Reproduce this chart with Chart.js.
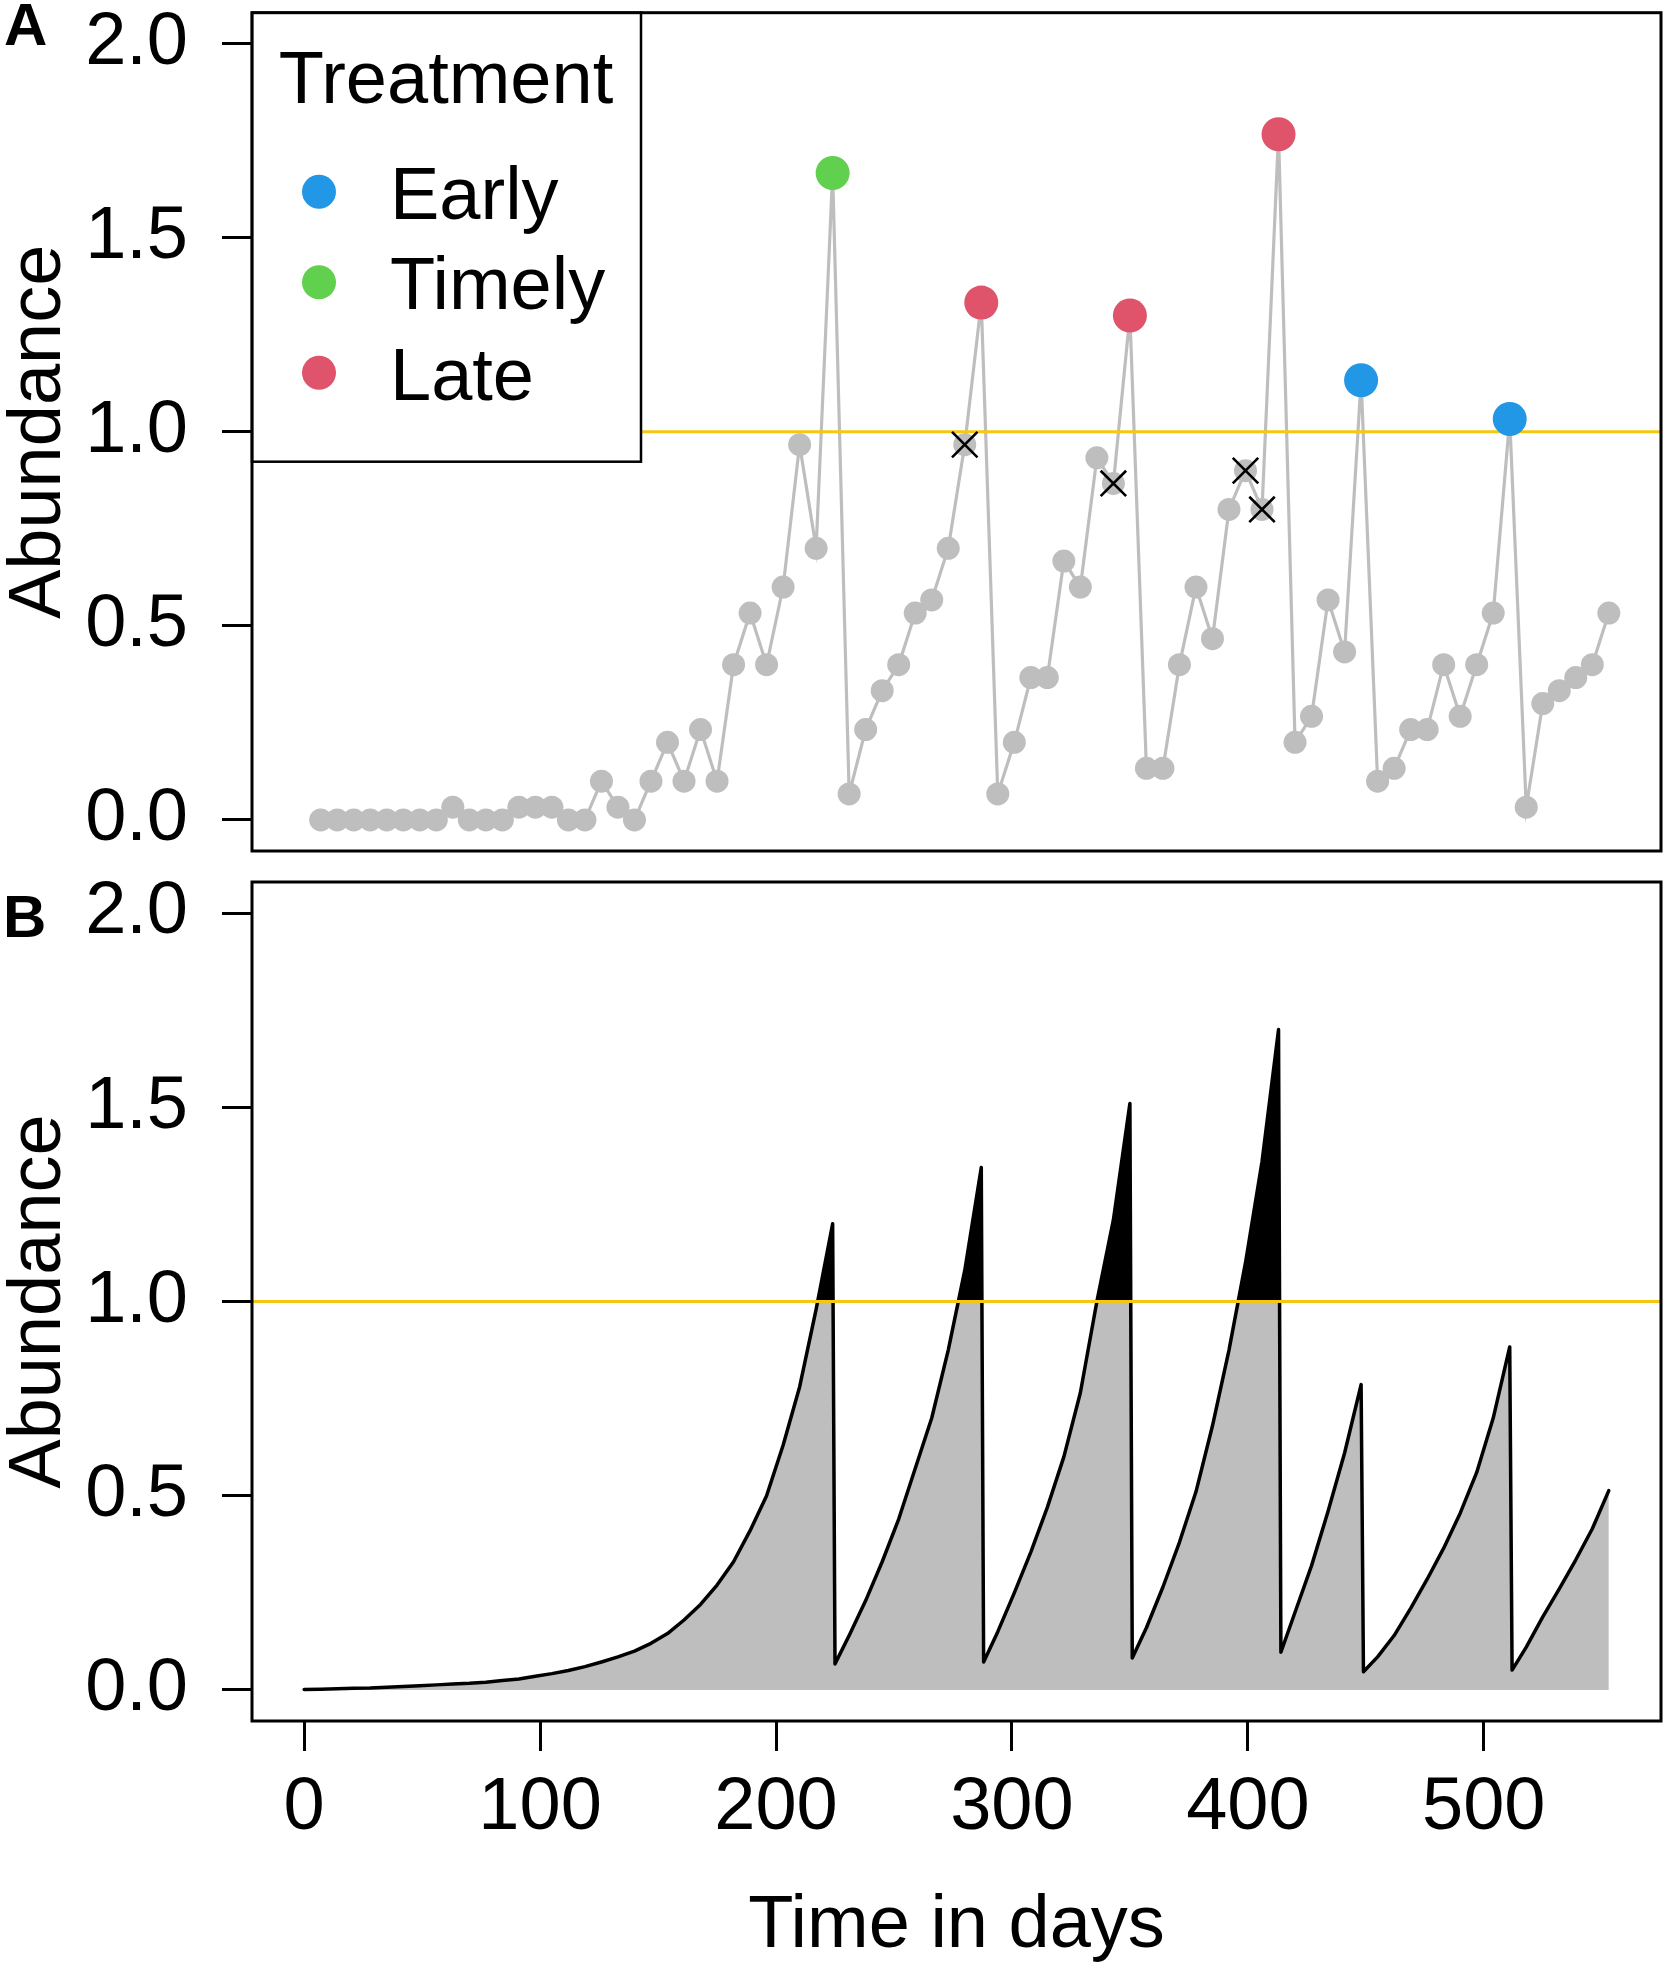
<!DOCTYPE html>
<html>
<head>
<meta charset="utf-8">
<script src="https://cdn.jsdelivr.net/npm/chart.js@4.4.1/dist/chart.umd.min.js"></script>
<style>
  html, body { margin: 0; padding: 0; background: #fff; }
  #wrap { position: relative; width: 1669px; height: 1973px; background: #fff; }
  canvas { position: absolute; left: 0; }
  #cA { top: 0; }
  #cB { top: 866px; }
</style>
</head>
<body>
<div id="wrap">
  <canvas id="cA" width="1669" height="866"></canvas>
  <canvas id="cB" width="1669" height="1107"></canvas>
</div>
<script>
// ---------------- DATA ----------------
// Panel A: weekly observed abundance
const weekDays = [7,14,21,28,35,42,49,56,63,70,77,84,91,98,105,112,119,126,133,140,
  147,154,161,168,175,182,189,196,203,210,217,224,231,238,245,252,259,266,273,280,
  287,294,301,308,315,322,329,336,343,350,357,364,371,378,385,392,399,406,413,420,
  427,434,441,448,455,462,469,476,483,490,497,504,511,518,525,532,539,546,553];
const observedAbundance = [0,0,0,0,0,0,0,0,0.033,0,0,0,0.033,0.033,0.033,0,0,0.1,0.033,0,
  0.1,0.2,0.1,0.233,0.1,0.4,0.533,0.4,0.6,0.967,0.7,1.667,0.067,0.233,0.333,0.4,0.533,0.567,0.7,0.967,
  1.333,0.067,0.2,0.367,0.367,0.667,0.6,0.933,0.867,1.3,0.133,0.133,0.4,0.6,0.467,0.8,0.9,0.8,1.767,0.2,
  0.267,0.567,0.433,1.133,0.1,0.133,0.233,0.233,0.4,0.267,0.4,0.533,1.033,0.033,0.3,0.333,0.367,0.4,0.533];

// Treatments (legend order)
const treatmentNames = ['Early', 'Timely', 'Late'];
const earlyDays = [448, 511];
const earlyValues = [1.133, 1.033];
const timelyDays = [224];
const timelyValues = [1.667];
const lateDays = [287, 350, 413];
const lateValues = [1.333, 1.3, 1.767];
// threshold crossings not treated (x marks)
const missedDays = [280, 343, 399, 406];
const missedValues = [0.967, 0.867, 0.9, 0.8];

// Panel B: modelled abundance
const modelDays = [0,7,14,21,28,35,42,49,56,63,70,77,84,91,98,105,112,119,126,133,140,147,154,161,168,175,182,189,196,203,210,217,224,
  225,231,238,245,252,259,266,273,280,287,
  288,294,301,308,315,322,329,336,343,350,
  351,357,364,371,378,385,392,399,406,413,
  414,420,427,434,441,448,
  449,455,462,469,476,483,490,497,504,511,
  512,518,525,532,539,546,553];
const modelValues = [0.001,0.002,0.003,0.004,0.005,0.007,0.009,0.011,0.013,0.015,0.017,0.02,0.024,0.028,0.035,0.042,0.05,0.06,0.072,0.085,0.1,0.12,0.145,0.18,0.22,0.27,0.33,0.41,0.5,0.63,0.78,0.98,1.2,
  0.067,0.14,0.23,0.33,0.44,0.57,0.7,0.875,1.08,1.345,
  0.072,0.15,0.25,0.355,0.47,0.6,0.765,1.0,1.21,1.51,
  0.082,0.16,0.265,0.38,0.51,0.68,0.875,1.1,1.36,1.7,
  0.097,0.2,0.32,0.46,0.61,0.786,
  0.047,0.085,0.14,0.21,0.285,0.365,0.455,0.56,0.7,0.883,
  0.051,0.11,0.188,0.26,0.335,0.415,0.513];

const threshold = 1.0;
const xRange = [-22.12, 575.12];
const yRange = [-0.08, 2.08];
const yTickValues = [0, 0.5, 1, 1.5, 2];
const xTickValues = [0, 100, 200, 300, 400, 500];

// ---------------- STYLE ----------------
const FONT = '"Liberation Sans", Arial, Helvetica, sans-serif';
const GRAY = '#BEBEBE';
const ORANGE = '#F5C710';
const treatmentColors = ['#2297E6', '#61D04F', '#DF536B'];

const pts = (xs, ys) => xs.map((x, i) => ({ x: x, y: ys[i] }));

const boxPlugin = {
  id: 'box',
  afterDraw(chart) {
    const { ctx, chartArea: a } = chart;
    ctx.save();
    ctx.lineWidth = 3;
    ctx.strokeStyle = '#000';
    ctx.strokeRect(a.left, a.top, a.right - a.left, a.bottom - a.top);
    ctx.restore();
  }
};

function panelLabelPlugin(text, x, y) {
  return {
    id: 'panelLabel' + text,
    afterDraw(chart) {
      const ctx = chart.ctx;
      ctx.save();
      ctx.font = 'bold 60px ' + FONT;
      ctx.fillStyle = '#000';
      ctx.textAlign = 'left';
      ctx.textBaseline = 'alphabetic';
      ctx.fillText(text, x, y);
      ctx.restore();
    }
  };
}

const legendPlugin = {
  id: 'treatLegend',
  afterDatasetsDraw(chart) {
    const { ctx, chartArea: a } = chart;
    const L = a.left, T = a.top, W = 389, H = 449;
    ctx.save();
    ctx.fillStyle = '#fff';
    ctx.fillRect(L, T, W, H);
    ctx.lineWidth = 2.5;
    ctx.strokeStyle = '#000';
    ctx.strokeRect(L, T, W, H);
    ctx.fillStyle = '#000';
    ctx.font = '74px ' + FONT;
    ctx.textAlign = 'center';
    ctx.textBaseline = 'alphabetic';
    ctx.fillText('Treatment', L + 194, T + 90);
    treatmentNames.forEach((name, i) => {
      const cy = T + 179 + 90.5 * i;
      ctx.beginPath();
      ctx.arc(L + 67, cy, 17, 0, Math.PI * 2);
      ctx.fillStyle = treatmentColors[i];
      ctx.fill();
      ctx.fillStyle = '#000';
      ctx.textAlign = 'left';
      ctx.fillText(name, L + 138, cy + 27);
    });
    ctx.restore();
  }
};

function yScale() {
  return {
    type: 'linear',
    min: yRange[0],
    max: yRange[1],
    afterFit(s) { s.width = 252; s.paddingTop = 0; s.paddingBottom = 0; },
    afterBuildTicks(s) { s.ticks = yTickValues.map(v => ({ value: v })); },
    ticks: {
      callback: v => Number(v).toFixed(1),
      font: { family: FONT, size: 74 },
      color: '#000',
      padding: 34
    },
    grid: { display: true, drawOnChartArea: false, drawTicks: true, tickLength: 30, tickWidth: 3, tickColor: '#000', color: '#000' },
    border: { display: false },
    title: { display: true, text: 'Abundance', color: '#000', font: { family: FONT, size: 74, lineHeight: 1.08 }, padding: 0 }
  };
}

const commonOptions = {
  animation: false,
  responsive: false,
  devicePixelRatio: 1,
  events: [],
};

// ---------------- PANEL A ----------------
new Chart(document.getElementById('cA'), {
  type: 'line',
  data: {
    datasets: [
      { label: treatmentNames[0], data: pts(earlyDays, earlyValues), showLine: false, pointRadius: 17, pointBackgroundColor: treatmentColors[0], pointBorderWidth: 0, order: 0 },
      { label: treatmentNames[1], data: pts(timelyDays, timelyValues), showLine: false, pointRadius: 17, pointBackgroundColor: treatmentColors[1], pointBorderWidth: 0, order: 0 },
      { label: treatmentNames[2], data: pts(lateDays, lateValues), showLine: false, pointRadius: 17, pointBackgroundColor: treatmentColors[2], pointBorderWidth: 0, order: 0 },
      { label: 'Missed', data: pts(missedDays, missedValues), showLine: false, pointStyle: 'crossRot', pointRadius: 18, pointBorderColor: '#000', pointBorderWidth: 2.6, pointBackgroundColor: 'rgba(0,0,0,0)', order: 1 },
      { label: 'Threshold', data: pts(xRange, [threshold, threshold]), borderColor: ORANGE, borderWidth: 3, pointRadius: 0, tension: 0, order: 2 },
      { label: 'Observed', data: pts(weekDays, observedAbundance), borderColor: GRAY, borderWidth: 3.2, tension: 0, pointRadius: 11.5, pointBackgroundColor: GRAY, pointBorderWidth: 0, order: 3 }
    ]
  },
  options: Object.assign({}, commonOptions, {
    layout: { autoPadding: false, padding: { top: 12.7, right: 8, bottom: 15, left: 0 } },
    plugins: { legend: { display: false }, tooltip: { enabled: false } },
    scales: {
      x: { type: 'linear', min: xRange[0], max: xRange[1], display: false },
      y: yScale()
    }
  }),
  plugins: [legendPlugin, boxPlugin, panelLabelPlugin('A', 4, 45)]
});

// ---------------- PANEL B ----------------
new Chart(document.getElementById('cB'), {
  type: 'line',
  data: {
    datasets: [
      { label: 'Threshold', data: pts(xRange, [threshold, threshold]), borderColor: ORANGE, borderWidth: 3, pointRadius: 0, tension: 0, order: 0 },
      { label: 'Above threshold', data: pts(modelDays, modelValues), borderColor: 'rgba(0,0,0,0)', borderWidth: 1, pointRadius: 0, tension: 0,
        fill: { target: { value: threshold }, above: '#000', below: 'rgba(0,0,0,0)' }, order: 1 },
      { label: 'Model', data: pts(modelDays, modelValues), borderColor: '#000', borderWidth: 3.5, pointRadius: 0, tension: 0,
        borderJoinStyle: 'round', borderCapStyle: 'round', fill: 'origin', backgroundColor: GRAY, order: 2 }
    ]
  },
  options: Object.assign({}, commonOptions, {
    layout: { autoPadding: false, padding: { top: 16, right: 8, bottom: 0, left: 0 } },
    plugins: { legend: { display: false }, tooltip: { enabled: false } },
    scales: {
      x: {
        type: 'linear', min: xRange[0], max: xRange[1],
        afterFit(s) { s.height = 252; s.paddingLeft = 0; s.paddingRight = 0; },
        afterBuildTicks(s) { s.ticks = xTickValues.map(v => ({ value: v })); },
        ticks: { font: { family: FONT, size: 74 }, color: '#000', padding: 13, maxRotation: 0, autoSkip: false },
        grid: { display: true, drawOnChartArea: false, drawTicks: true, tickLength: 30, tickWidth: 3, tickColor: '#000', color: '#000' },
        border: { display: false },
        title: { display: true, text: 'Time in days', color: '#000', font: { family: FONT, size: 74 }, padding: { top: 0, bottom: 2 } }
      },
      y: yScale()
    }
  }),
  plugins: [boxPlugin, panelLabelPlugin('B', 3, 71)]
});
</script>
</body>
</html>
